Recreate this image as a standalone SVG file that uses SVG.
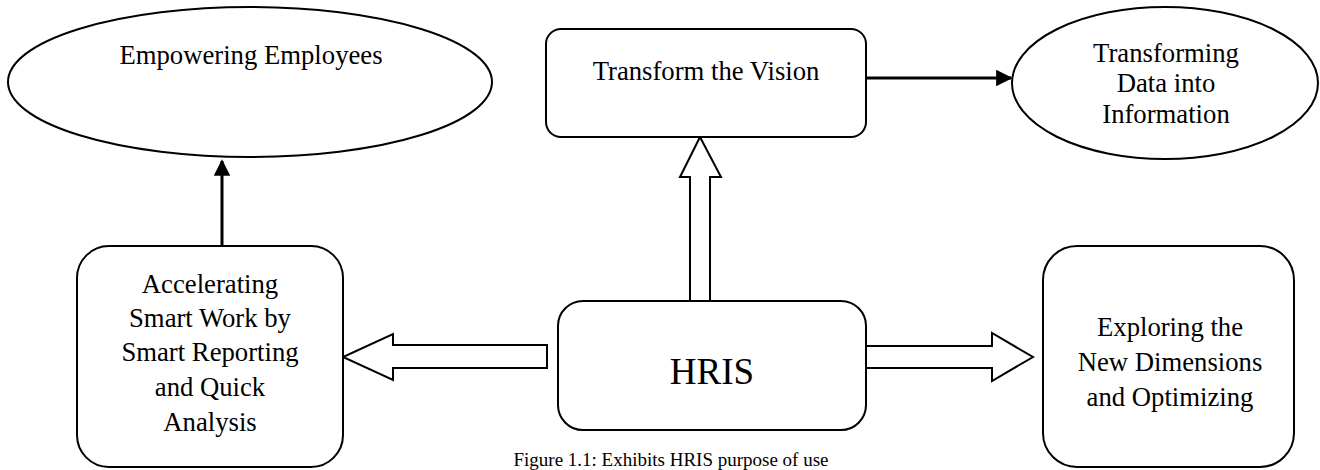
<svg xmlns="http://www.w3.org/2000/svg" width="1320" height="470" viewBox="0 0 1320 470">
  <style>
    .shape { fill: #ffffff; stroke: #000000; stroke-width: 2; }
    .hollow { fill: #ffffff; stroke: #000000; stroke-width: 2; stroke-linejoin: miter; }
    .line { fill: none; stroke: #000000; stroke-width: 3; }
    text { font-family: "Liberation Serif", "Times New Roman", serif; fill: #000000; text-anchor: middle; }
    .lbl { font-size: 26.7px; }
    .big { font-size: 37px; }
    .cap { font-size: 19px; }
  </style>
  <defs>
    <marker id="head" viewBox="0 0 10 10" refX="9" refY="5" markerWidth="5.5" markerHeight="5.5" orient="auto" markerUnits="strokeWidth">
      <path d="M0,0 L10,5 L0,10 Z" fill="#000000"/>
    </marker>
  </defs>

  <!-- connectors -->
  <g id="connectors">
    <!-- Accelerating box up to Empowering Employees -->
    <line class="line" x1="222" y1="247" x2="222" y2="161" marker-end="url(#head)"/>
    <!-- Transform the Vision to Transforming Data -->
    <line class="line" x1="866" y1="78" x2="1011" y2="78" marker-end="url(#head)"/>
    <!-- block arrow: HRIS up to Transform the Vision -->
    <path class="hollow" d="M690,301 L690,177 L680,177 L700,137 L721,177 L710,177 L710,301"/>
    <!-- block arrow: HRIS left to Accelerating -->
    <path class="hollow" d="M547,345 L393,345 L393,334 L343,357 L393,380 L393,368 L547,368 Z"/>
    <!-- block arrow: HRIS right to Exploring -->
    <path class="hollow" d="M866,346 L992,346 L992,333 L1033,357 L992,381 L992,368 L866,368"/>
  </g>

  <g id="empowering">
    <ellipse class="shape" cx="250" cy="82" rx="242" ry="75"/>
    <text class="lbl" x="251" y="64">Empowering Employees</text>
  </g>

  <g id="transform-vision">
    <rect class="shape" x="546" y="29" width="320" height="108" rx="15" ry="15"/>
    <text class="lbl" x="706" y="80">Transform the Vision</text>
  </g>

  <g id="transforming-data">
    <ellipse class="shape" cx="1165" cy="83" rx="153" ry="76"/>
    <text class="lbl" x="1166" y="62">Transforming</text>
    <text class="lbl" x="1166" y="92">Data into</text>
    <text class="lbl" x="1166" y="123">Information</text>
  </g>

  <g id="accelerating">
    <rect class="shape" x="77" y="246" width="266" height="221" rx="32" ry="32"/>
    <text class="lbl" x="210" y="293">Accelerating</text>
    <text class="lbl" x="210" y="327">Smart Work by</text>
    <text class="lbl" x="210" y="361">Smart Reporting</text>
    <text class="lbl" x="210" y="396">and Quick</text>
    <text class="lbl" x="210" y="431">Analysis</text>
  </g>

  <g id="hris">
    <rect class="shape" x="558" y="301" width="308" height="129" rx="25" ry="25"/>
    <text class="big" x="712" y="384">HRIS</text>
  </g>

  <g id="exploring">
    <rect class="shape" x="1043" y="246" width="251" height="221" rx="34" ry="34"/>
    <text class="lbl" x="1170" y="336">Exploring the</text>
    <text class="lbl" x="1170" y="371">New Dimensions</text>
    <text class="lbl" x="1170" y="406">and Optimizing</text>
  </g>

  <text class="cap" x="671" y="466">Figure 1.1: Exhibits HRIS purpose of use</text>
</svg>
